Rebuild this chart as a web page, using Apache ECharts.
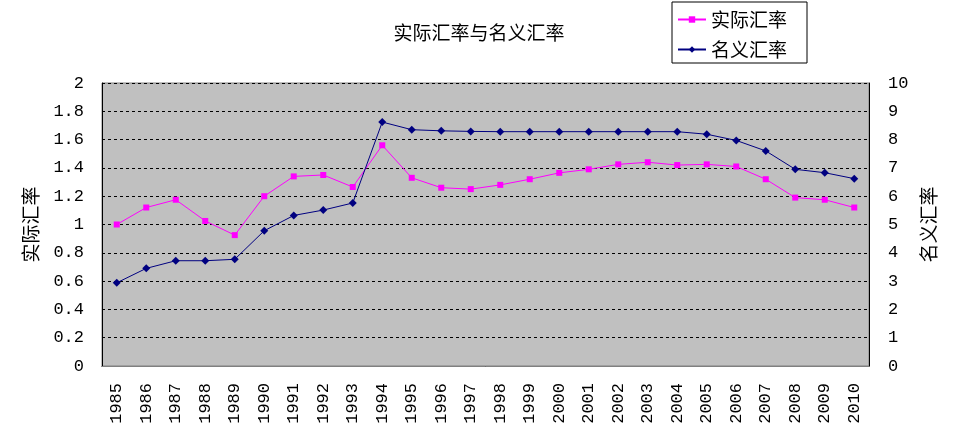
<!DOCTYPE html>
<html>
<head>
<meta charset="utf-8">
<script src="https://cdn.jsdelivr.net/npm/echarts@6/dist/echarts.min.js"></script>
<style>
    html, body { margin: 0; padding: 0; background: #fff; }
    #chartDiv { width: 958px; height: 441px; }
</style>
</head>
<body>
<div id="chartDiv"></div>
<script>
var years = ['1985', '1986', '1987', '1988', '1989', '1990', '1991', '1992', '1993', '1994',
    '1995', '1996', '1997', '1998', '1999', '2000', '2001', '2002', '2003', '2004',
    '2005', '2006', '2007', '2008', '2009', '2010'];
// 实际汇率 (left axis)
var realRate = [1.00, 1.12, 1.175, 1.025, 0.925, 1.20, 1.34, 1.35, 1.265, 1.56,
    1.33, 1.26, 1.25, 1.28, 1.32, 1.365, 1.39, 1.425, 1.44, 1.42,
    1.425, 1.41, 1.32, 1.19, 1.175, 1.12];
// 名义汇率 (right axis)
var nominalRate = [2.94, 3.45, 3.72, 3.72, 3.77, 4.78, 5.32, 5.51, 5.76, 8.62,
    8.35, 8.31, 8.29, 8.28, 8.28, 8.28, 8.28, 8.28, 8.28, 8.28,
    8.19, 7.97, 7.60, 6.95, 6.83, 6.62];

var numFont = 'Liberation Mono';
var cjkFont = 'Noto Sans CJK SC';

function drawRateLines() {
    var myChart = echarts.init(document.getElementById('chartDiv'));
    myChart.setOption({
        animation: false,
        backgroundColor: '#fff',
        title: {
            text: '实际汇率与名义汇率',
            left: 'center',
            top: 18,
            textStyle: { fontFamily: cjkFont, fontSize: 19, fontWeight: 'normal', color: '#000' }
        },
        legend: {
            orient: 'vertical',
            left: 672,
            top: 2,
            padding: [8, 20, 4, 5],
            itemGap: 11,
            itemWidth: 28,
            itemHeight: 8,
            borderColor: '#000',
            borderWidth: 1,
            textStyle: { fontFamily: cjkFont, fontSize: 19, color: '#000' },
            data: ['实际汇率', '名义汇率']
        },
        grid: {
            left: 102,
            right: 89,
            top: 83,
            bottom: 75,
            show: true,
            backgroundColor: '#C0C0C0',
            borderColor: '#808080',
            borderWidth: 1
        },
        xAxis: [{
            type: 'category',
            data: years,
            boundaryGap: true,
            axisLine: { lineStyle: { color: '#000', width: 1 } },
            axisTick: { inside: true, length: 6, lineStyle: { color: '#000' } },
            axisLabel: { rotate: 90, margin: 17, fontFamily: numFont, fontSize: 17, color: '#000', interval: 0 }
        }, {
            type: 'category',
            data: years,
            position: 'top',
            axisLine: { lineStyle: { color: '#808080', width: 1 } },
            axisTick: { show: false },
            axisLabel: { show: false }
        }],
        yAxis: [{
            type: 'value',
            name: '实际汇率',
            nameLocation: 'middle',
            nameRotate: 90,
            nameGap: 62,
            nameTextStyle: { fontFamily: cjkFont, fontSize: 19, color: '#000' },
            min: 0,
            max: 2,
            interval: 0.2,
            axisLine: { show: true, lineStyle: { color: '#000' } },
            axisTick: { show: false },
            axisLabel: { margin: 18, fontFamily: numFont, fontSize: 17, color: '#000' },
            splitLine: { lineStyle: { color: '#000', type: [3, 3], width: 1 } }
        }, {
            type: 'value',
            name: '名义汇率',
            nameLocation: 'middle',
            nameRotate: 90,
            nameGap: 46,
            nameTextStyle: { fontFamily: cjkFont, fontSize: 19, color: '#000' },
            min: 0,
            max: 10,
            interval: 1,
            axisLine: { show: true, lineStyle: { color: '#000' } },
            axisTick: { show: false },
            axisLabel: { margin: 19, fontFamily: numFont, fontSize: 17, color: '#000' },
            splitLine: { show: false }
        }],
        series: [
            {
                name: '实际汇率',
                type: 'line',
                yAxisIndex: 0,
                symbol: 'rect',
                symbolSize: 6,
                itemStyle: { color: '#FF00FF' },
                lineStyle: { color: '#FF00FF', width: 1 },
                data: realRate
            },
            {
                name: '名义汇率',
                type: 'line',
                yAxisIndex: 1,
                symbol: 'diamond',
                symbolSize: 8,
                itemStyle: { color: '#000080' },
                lineStyle: { color: '#000080', width: 1 },
                data: nominalRate
            }
        ]
    });
}

drawRateLines();
</script>
</body>
</html>
